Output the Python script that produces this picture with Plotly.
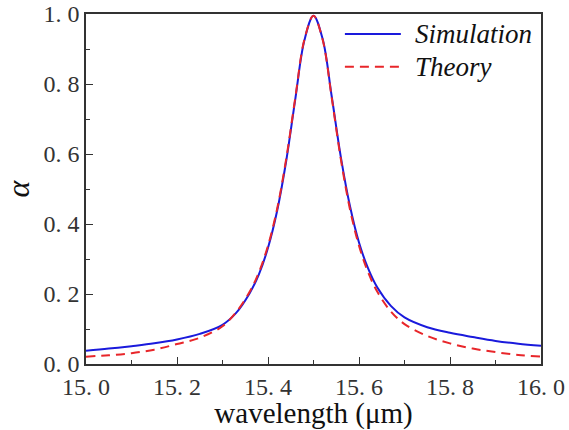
import plotly.graph_objects as go

wavelength = [15.00, 15.05, 15.10, 15.15, 15.20, 15.25, 15.30, 15.33, 15.36, 15.38,
              15.40, 15.42, 15.44, 15.46, 15.48, 15.50, 15.52, 15.54, 15.56, 15.58,
              15.60, 15.62, 15.64, 15.67, 15.70, 15.75, 15.80, 15.85, 15.90, 15.95, 16.00]
simulation = [0.038, 0.044, 0.051, 0.059, 0.070, 0.086, 0.112, 0.146, 0.203, 0.256,
              0.332, 0.437, 0.580, 0.757, 0.925, 0.995, 0.929, 0.765, 0.592, 0.452,
              0.347, 0.273, 0.219, 0.166, 0.133, 0.105, 0.089, 0.077, 0.066, 0.058, 0.052]
theory = [0.021, 0.025, 0.031, 0.041, 0.057, 0.075, 0.108, 0.148, 0.207, 0.262,
          0.338, 0.443, 0.586, 0.761, 0.927, 0.995, 0.927, 0.761, 0.586, 0.443,
          0.338, 0.262, 0.207, 0.150, 0.114, 0.080, 0.059, 0.044, 0.034, 0.026, 0.021]

x_tickvals = [15.0, 15.2, 15.4, 15.6, 15.8, 16.0]
x_ticktext = ["15. 0", "15. 2", "15. 4", "15. 6", "15. 8", "16. 0"]
y_tickvals = [0.0, 0.2, 0.4, 0.6, 0.8, 1.0]
y_ticktext = ["0. 0", "0. 2", "0. 4", "0. 6", "0. 8", "1. 0"]
series_names = ["Simulation", "Theory"]
series_colors = ["#1a1adc", "#e8262a"]
series_dash = ["solid", "9px,6px"]

SERIF = "Liberation Serif"

fig = go.Figure()
for name, yv, col, dsh in zip(series_names, [simulation, theory], series_colors, series_dash):
    fig.add_trace(go.Scatter(x=wavelength, y=yv, mode="lines", name=name,
                             line=dict(color=col, width=2, dash=dsh, shape="spline"),
                             showlegend=False))

# legend drawn manually (longer line samples, as in the reference)
leg_y = [0.943, 0.849]
for name, col, dsh, ly in zip(series_names, series_colors, series_dash, leg_y):
    fig.add_shape(type="line", xref="paper", yref="paper", x0=0.569, x1=0.692, y0=ly, y1=ly,
                  line=dict(color=col, width=2, dash=dsh))
    fig.add_annotation(xref="paper", yref="paper", x=0.718, y=ly, xanchor="left", yanchor="middle",
                       text=f"<i>{name}</i>", showarrow=False,
                       font=dict(family=SERIF, size=27, color="#111111"))

axis_common = dict(showline=True, linecolor="#333333", linewidth=1.5, mirror=True,
                   ticks="inside", tickcolor="#333333", ticklen=7, tickwidth=1.3,
                   showgrid=False, zeroline=False, automargin=False,
                   ticklabeloverflow="allow",
                   tickfont=dict(family=SERIF, size=24, color="#333333"))

fig.update_xaxes(range=[15.0, 16.0], tickvals=x_tickvals, ticktext=x_ticktext,
                 minor=dict(ticks="inside", ticklen=4, tickcolor="#333333", dtick=0.1, tick0=15.0),
                 title=dict(text="wavelength (μm)", font=dict(family=SERIF, size=29, color="#111111"),
                            standoff=0),
                 **axis_common)
fig.update_yaxes(range=[0.0, 1.0], tickvals=y_tickvals, ticktext=y_ticktext,
                 minor=dict(ticks="inside", ticklen=4, tickcolor="#333333", dtick=0.1, tick0=0.0),
                 title=dict(text="<i>α</i>", font=dict(family=SERIF, size=32, color="#111111"),
                            standoff=4),
                 **axis_common)

fig.update_layout(width=569, height=430,
                  margin=dict(l=86, r=28, t=14, b=66, autoexpand=False),
                  paper_bgcolor="white", plot_bgcolor="white",
                  showlegend=False)

fig.write_html("out.html", config={"displayModeBar": False},
               post_script="document.body.style.margin='0px';")
